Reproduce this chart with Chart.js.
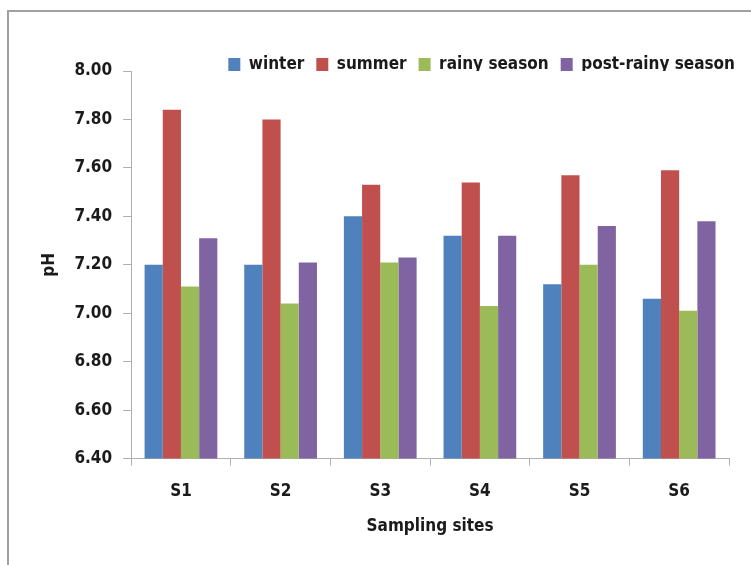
<!DOCTYPE html>
<html lang="en">
<head>
  <meta charset="UTF-8">
  <title>pH by sampling site</title>
  <script src="https://cdn.jsdelivr.net/npm/chart.js"></script>
  <style>
    html, body { margin: 0; padding: 0; background: #fff; }
    #wrap { position: relative; width: 751px; height: 565px; overflow: hidden; }
    #frame { position: absolute; left: 7px; top: 10px; width: 800px; height: 600px;
             border-left: 2px solid #a0a0a0; border-top: 2px solid #a0a0a0; }
    canvas { position: absolute; left: 0; top: 0; }
  </style>
</head>
<body>
  <div id="wrap">
    <div id="frame"></div>
    <canvas id="phChart" width="751" height="565"></canvas>
  </div>

  <script>
    const sites = ['S1', 'S2', 'S3', 'S4', 'S5', 'S6'];
    const winter = [7.20, 7.20, 7.40, 7.32, 7.12, 7.06];
    const summer = [7.84, 7.80, 7.53, 7.54, 7.57, 7.59];
    const rainy = [7.11, 7.04, 7.21, 7.03, 7.20, 7.01];
    const postRainy = [7.31, 7.21, 7.23, 7.32, 7.36, 7.38];

    const axisGray = '#b0b0b0';
    Chart.defaults.font.family = "'DejaVu Sans Condensed', 'DejaVu Sans', sans-serif";
    Chart.defaults.font.size = 17;
    Chart.defaults.font.weight = 'bold';
    Chart.defaults.color = '#1a1a1a';

    const ctx = document.getElementById('phChart').getContext('2d');
    new Chart(ctx, {
      type: 'bar',
      data: {
        labels: sites,
        datasets: [
          { label: 'winter', data: winter, backgroundColor: '#4f81bd' },
          { label: 'summer', data: summer, backgroundColor: '#c0504d' },
          { label: 'rainy season', data: rainy, backgroundColor: '#9bbb59' },
          { label: 'post-rainy season', data: postRainy, backgroundColor: '#8064a2' },
        ]
      },
      options: {
        responsive: false,
        animation: false,
        categoryPercentage: 0.73,
        barPercentage: 1.0,
        layout: { padding: { top: 44, right: 4, bottom: 28, left: 30 } },
        plugins: {
          tooltip: { enabled: false },
          legend: {
            position: 'top',
            align: 'end',
            maxHeight: 27,
            labels: { boxWidth: 12, boxHeight: 13, padding: 12 }
          }
        },
        scales: {
          x: {
            grid: { drawOnChartArea: false, offset: true, tickLength: 7, color: axisGray },
            border: { color: axisGray },
            ticks: { padding: 16 },
            title: {
              display: true, text: 'Sampling sites',
              font: { lineHeight: 1.0 },
              padding: { top: 0, bottom: 2 }
            }
          },
          y: {
            min: 6.4,
            max: 8.0,
            grid: { drawOnChartArea: false, tickLength: 8, color: axisGray },
            border: { color: axisGray },
            ticks: { stepSize: 0.2, padding: 11, callback: v => v.toFixed(2) },
            title: { display: true, text: 'pH', padding: { top: 9, bottom: 4 } }
          },
          spacer: {
            type: 'linear',
            position: 'right',
            grid: { display: false },
            border: { display: false },
            ticks: { display: false },
            afterFit: s => { s.width = 18; }
          }
        }
      }
    });
  </script>
</body>
</html>
